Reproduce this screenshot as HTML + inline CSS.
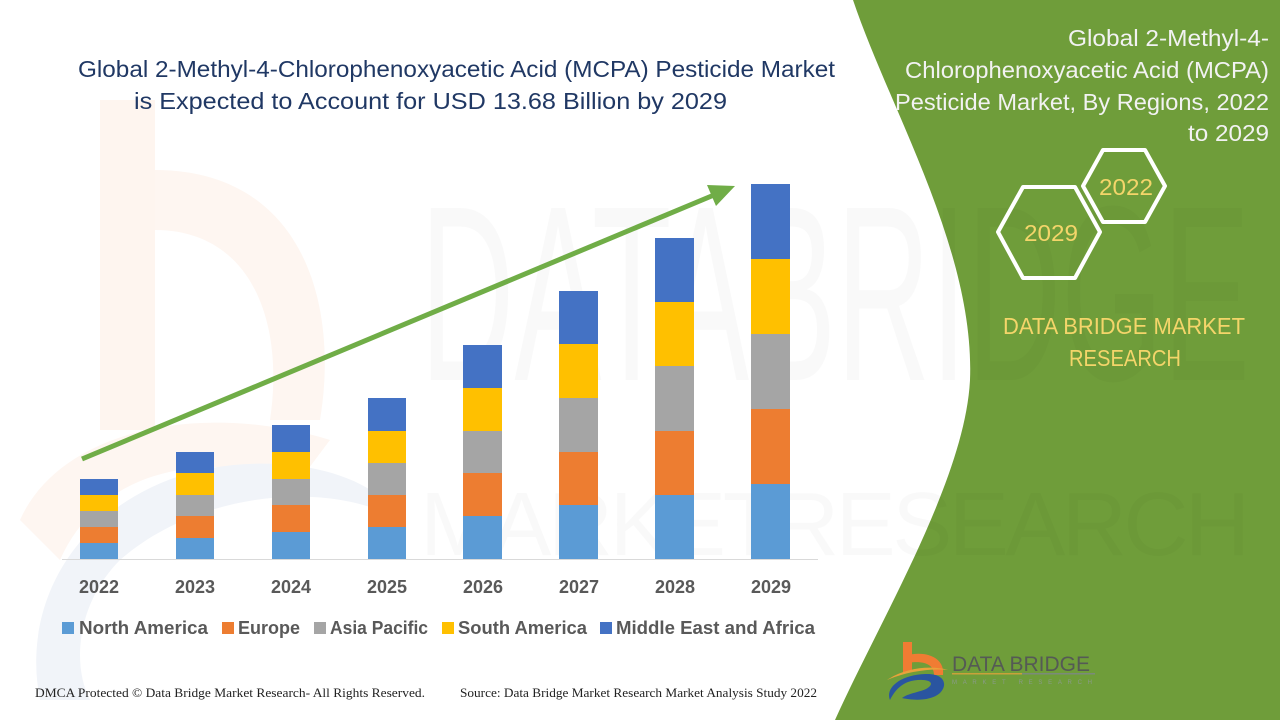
<!DOCTYPE html>
<html>
<head>
<meta charset="utf-8">
<style>
html,body{margin:0;padding:0;background:#fff;}
svg{display:block;}
</style>
</head>
<body>
<svg width="1280" height="720" viewBox="0 0 1280 720" xmlns="http://www.w3.org/2000/svg">
  <rect width="1280" height="720" fill="#ffffff"/>

  <!-- faint watermark logo on left -->
  <rect x="100" y="100" width="55" height="330" fill="#fef5ef"/>
  <path d="M155,170 C300,170 340,300 320,420 L270,420 C285,320 250,230 155,230 Z" fill="#fef6f1"/>
  <path d="M20,520 C60,430 200,400 330,440 L300,480 C200,450 100,470 60,560 Z" fill="#fef6f1"/>
  <path d="M40,700 C20,600 80,500 200,470 C300,450 380,480 400,520 C330,480 200,490 120,560 C80,600 70,660 90,700 Z" fill="#f1f4f9"/>

  <!-- green panel -->
  <path d="M853,0 C890,110 975,250 970,380 C965,480 880,620 835,720 L1280,720 L1280,0 Z" fill="#6f9d3a"/>

  <!-- faint watermark text -->
  <text x="420" y="380" font-family="Liberation Sans, sans-serif" font-size="250" fill="#000" fill-opacity="0.025" textLength="830" lengthAdjust="spacingAndGlyphs">DATABRIDGE</text>
  <text x="420" y="555" font-family="Liberation Sans, sans-serif" font-size="90" fill="#000" fill-opacity="0.022" textLength="830" lengthAdjust="spacing">MARKETRESEARCH</text>

  <!-- title -->
  <text x="78" y="77" font-family="Liberation Sans, sans-serif" font-size="23" fill="#203864" textLength="757" lengthAdjust="spacingAndGlyphs">Global 2-Methyl-4-Chlorophenoxyacetic Acid (MCPA) Pesticide Market</text>
  <text x="134" y="109" font-family="Liberation Sans, sans-serif" font-size="23" fill="#203864" textLength="593" lengthAdjust="spacingAndGlyphs">is Expected to Account for USD 13.68 Billion by 2029</text>

  <!-- axis -->
  <line x1="62" y1="559.5" x2="818" y2="559.5" stroke="#d9d9d9" stroke-width="1"/>

  <!-- bars -->
  <g>
    <rect x="80" y="543" width="38" height="16" fill="#5b9bd5"/>
    <rect x="80" y="527" width="38" height="16" fill="#ed7d31"/>
    <rect x="80" y="511" width="38" height="16" fill="#a5a5a5"/>
    <rect x="80" y="495" width="38" height="16" fill="#ffc000"/>
    <rect x="80" y="479" width="38" height="16" fill="#4472c4"/>

    <rect x="176" y="538" width="38" height="21" fill="#5b9bd5"/>
    <rect x="176" y="516" width="38" height="22" fill="#ed7d31"/>
    <rect x="176" y="495" width="38" height="21" fill="#a5a5a5"/>
    <rect x="176" y="473" width="38" height="22" fill="#ffc000"/>
    <rect x="176" y="452" width="38" height="21" fill="#4472c4"/>

    <rect x="272" y="532" width="38" height="27" fill="#5b9bd5"/>
    <rect x="272" y="505" width="38" height="27" fill="#ed7d31"/>
    <rect x="272" y="479" width="38" height="26" fill="#a5a5a5"/>
    <rect x="272" y="452" width="38" height="27" fill="#ffc000"/>
    <rect x="272" y="425" width="38" height="27" fill="#4472c4"/>

    <rect x="368" y="527" width="38" height="32" fill="#5b9bd5"/>
    <rect x="368" y="495" width="38" height="32" fill="#ed7d31"/>
    <rect x="368" y="463" width="38" height="32" fill="#a5a5a5"/>
    <rect x="368" y="431" width="38" height="32" fill="#ffc000"/>
    <rect x="368" y="398" width="38" height="33" fill="#4472c4"/>

    <rect x="463" y="516" width="39" height="43" fill="#5b9bd5"/>
    <rect x="463" y="473" width="39" height="43" fill="#ed7d31"/>
    <rect x="463" y="431" width="39" height="42" fill="#a5a5a5"/>
    <rect x="463" y="388" width="39" height="43" fill="#ffc000"/>
    <rect x="463" y="345" width="39" height="43" fill="#4472c4"/>

    <rect x="559" y="505" width="39" height="54" fill="#5b9bd5"/>
    <rect x="559" y="452" width="39" height="53" fill="#ed7d31"/>
    <rect x="559" y="398" width="39" height="54" fill="#a5a5a5"/>
    <rect x="559" y="344" width="39" height="54" fill="#ffc000"/>
    <rect x="559" y="291" width="39" height="53" fill="#4472c4"/>

    <rect x="655" y="495" width="39" height="64" fill="#5b9bd5"/>
    <rect x="655" y="431" width="39" height="64" fill="#ed7d31"/>
    <rect x="655" y="366" width="39" height="65" fill="#a5a5a5"/>
    <rect x="655" y="302" width="39" height="64" fill="#ffc000"/>
    <rect x="655" y="238" width="39" height="64" fill="#4472c4"/>

    <rect x="751" y="484" width="39" height="75" fill="#5b9bd5"/>
    <rect x="751" y="409" width="39" height="75" fill="#ed7d31"/>
    <rect x="751" y="334" width="39" height="75" fill="#a5a5a5"/>
    <rect x="751" y="259" width="39" height="75" fill="#ffc000"/>
    <rect x="751" y="184" width="39" height="75" fill="#4472c4"/>
  </g>

  <!-- arrow -->
  <line x1="82" y1="459" x2="714" y2="195" stroke="#70ad47" stroke-width="5"/>
  <polygon points="735,186 716,206 707,185" fill="#70ad47"/>

  <!-- year labels -->
  <g font-family="Liberation Sans, sans-serif" font-size="18" font-weight="bold" fill="#595959" text-anchor="middle">
    <text x="99" y="593">2022</text>
    <text x="195" y="593">2023</text>
    <text x="291" y="593">2024</text>
    <text x="387" y="593">2025</text>
    <text x="483" y="593">2026</text>
    <text x="579" y="593">2027</text>
    <text x="675" y="593">2028</text>
    <text x="771" y="593">2029</text>
  </g>

  <!-- legend -->
  <g font-family="Liberation Sans, sans-serif" font-size="18" font-weight="bold" fill="#595959">
    <rect x="62" y="622" width="12" height="12" fill="#5b9bd5"/>
    <text x="79" y="634" textLength="129" lengthAdjust="spacingAndGlyphs">North America</text>
    <rect x="222" y="622" width="12" height="12" fill="#ed7d31"/>
    <text x="238" y="634" textLength="62" lengthAdjust="spacingAndGlyphs">Europe</text>
    <rect x="314" y="622" width="12" height="12" fill="#a5a5a5"/>
    <text x="330" y="634" textLength="98" lengthAdjust="spacingAndGlyphs">Asia Pacific</text>
    <rect x="442" y="622" width="12" height="12" fill="#ffc000"/>
    <text x="458" y="634" textLength="129" lengthAdjust="spacingAndGlyphs">South America</text>
    <rect x="600" y="622" width="12" height="12" fill="#4472c4"/>
    <text x="616" y="634" textLength="199" lengthAdjust="spacingAndGlyphs">Middle East and Africa</text>
  </g>

  <!-- right panel title -->
  <g font-family="Liberation Sans, sans-serif" font-size="23" fill="#f2f2f2" text-anchor="end">
    <text x="1269" y="46" textLength="201" lengthAdjust="spacingAndGlyphs">Global 2-Methyl-4-</text>
    <text x="1269" y="78" textLength="364" lengthAdjust="spacingAndGlyphs">Chlorophenoxyacetic Acid (MCPA)</text>
    <text x="1269" y="110" textLength="374" lengthAdjust="spacingAndGlyphs">Pesticide Market, By Regions, 2022</text>
    <text x="1269" y="141" textLength="81" lengthAdjust="spacingAndGlyphs">to 2029</text>
  </g>

  <!-- hexagons -->
  <polygon points="1083,186 1103,150 1145,150 1165,186 1145,222 1103,222" fill="none" stroke="#ffffff" stroke-width="4" stroke-linejoin="round"/>
  <polygon points="998,232 1023,187 1075,187 1100,232 1075,278 1023,278" fill="none" stroke="#ffffff" stroke-width="4" stroke-linejoin="round"/>
  <g font-family="Liberation Sans, sans-serif" font-size="23" fill="#f4d56a" text-anchor="middle">
    <text x="1126" y="195" textLength="54" lengthAdjust="spacingAndGlyphs">2022</text>
    <text x="1051" y="241" textLength="54" lengthAdjust="spacingAndGlyphs">2029</text>
  </g>

  <!-- DBMR text -->
  <g font-family="Liberation Sans, sans-serif" font-size="23" fill="#f4d56a" text-anchor="middle">
    <text x="1124" y="334" textLength="242" lengthAdjust="spacingAndGlyphs">DATA BRIDGE MARKET</text>
    <text x="1125" y="366" textLength="112" lengthAdjust="spacingAndGlyphs">RESEARCH</text>
  </g>

  <!-- bottom logo -->
  <g>
    <rect x="903" y="642" width="9" height="30" fill="#f07c33"/>
    <path d="M907,655 C930,650 945,660 943,675 L934,675 C934,665 925,660 907,663 Z" fill="#f07c33"/>
    <path d="M887,680 C905,668 930,665 948,670 C930,668 905,672 887,680 Z" fill="#e9a23b"/>
    <path d="M890,700 C885,688 900,675 925,674 C945,673 948,685 940,693 C930,702 910,700 902,698 C910,692 925,692 930,686 C935,680 920,678 908,682 C898,686 893,694 890,700 Z" fill="#2a55a0"/>
    <text x="952" y="671" font-family="Liberation Sans, sans-serif" font-size="21" fill="#555a55" textLength="138" lengthAdjust="spacingAndGlyphs">DATA BRIDGE</text>
    <rect x="952" y="673" width="70" height="1.5" fill="#c9a13a"/>
    <rect x="1022" y="673" width="73" height="1.5" fill="#7b8a7b"/>
    <text x="952" y="684" font-family="Liberation Sans, sans-serif" font-size="6" fill="#8a9a8a" textLength="140" lengthAdjust="spacing">MARKET   RESEARCH</text>
  </g>

  <!-- footer -->
  <g font-family="Liberation Serif, serif" font-size="12.5" fill="#222222">
    <text x="35" y="697" textLength="390" lengthAdjust="spacingAndGlyphs">DMCA Protected © Data Bridge Market Research- All Rights Reserved.</text>
    <text x="460" y="697" textLength="357" lengthAdjust="spacingAndGlyphs">Source: Data Bridge Market Research Market Analysis Study 2022</text>
  </g>
</svg>
</body>
</html>
